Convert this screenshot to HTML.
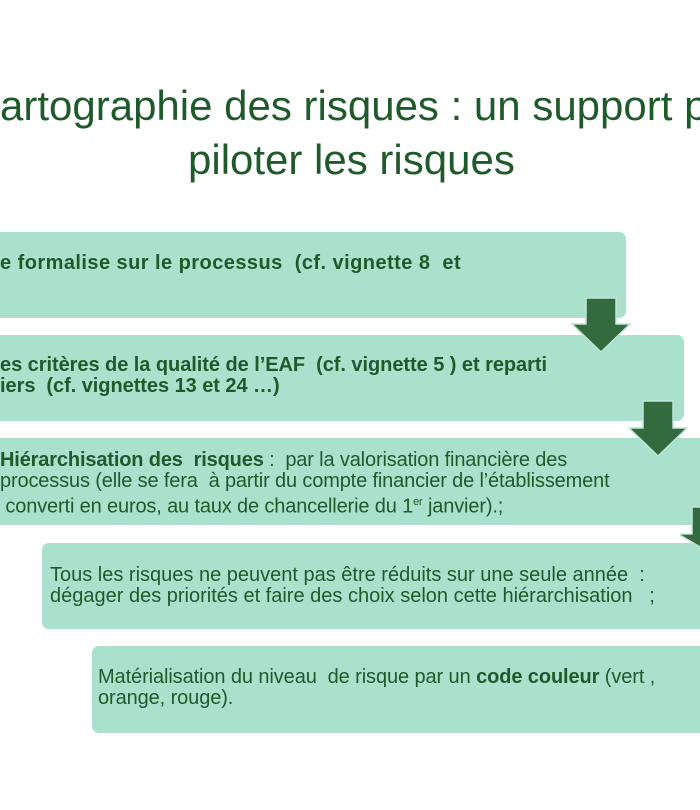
<!DOCTYPE html>
<html><head><meta charset="utf-8"><style>
body{margin:0;width:700px;height:810px;background:#fff;position:relative;overflow:hidden;font-family:"Liberation Sans",sans-serif;color:#1e5a2a}
.t{position:absolute;white-space:nowrap;font-size:42px;color:#1e5a2a}
.b{position:absolute;border-radius:7px;background:#a9e1cc}
.x{position:absolute;white-space:nowrap;font-size:20px;line-height:21px;color:#1e5a2a}
.a{position:absolute}
</style></head><body>
<div class="t" style="left:0;top:82px">artographie des risques : un support p</div>
<div class="t" style="left:188px;top:136px">piloter les risques</div>

<div class="b" style="left:-10px;top:232px;width:636px;height:86px"></div>
<div class="b" style="left:-10px;top:335px;width:694px;height:86px"></div>
<div class="b" style="left:-10px;top:438px;width:720px;height:87px"></div>
<div class="b" style="left:42px;top:543px;width:670px;height:86px"></div>
<div class="b" style="left:92px;top:646px;width:620px;height:87px"></div>

<svg class="a" style="left:570px;top:296px" width="62" height="58"><polygon points="16,2 46,2 46,28 60,28 31,56 2,28 16,28" fill="#336b3e" stroke="#bfe6d6" stroke-width="1.5"/></svg>
<svg class="a" style="left:627px;top:399px" width="62" height="60"><polygon points="16,2 46,2 46,29 60,29 31,57 2,29 16,29" fill="#336b3e" stroke="#bfe6d6" stroke-width="1.5"/></svg>
<svg class="a" style="left:680px;top:505px" width="40" height="50"><polygon points="16,2 46,2 46,29 60,29 31,46 2,29 16,29" fill="#336b3e" stroke="#bfe6d6" stroke-width="1.5" transform="translate(-4,0)"/></svg>

<div class="x" style="left:0;top:253px;font-weight:bold;letter-spacing:0.45px">e formalise sur le processus&nbsp; (cf. vignette 8&nbsp; et</div>
<div class="x" style="left:0;top:355px;font-weight:bold;letter-spacing:-0.05px">es critères de la qualité de l’EAF&nbsp; (cf. vignette 5 ) et reparti<br>iers&nbsp; (cf. vignettes 13 et 24 …)</div>
<div class="x" style="left:0;top:450px;letter-spacing:-0.15px"><b>Hiérarchisation des&nbsp; risques</b> :&nbsp; par la valorisation financière des<br>processus (elle se fera&nbsp; à partir du compte financier de l’établissement<br>&nbsp;converti en euros, au taux de chancellerie du 1<sup style="font-size:11px">er</sup> janvier).;</div>
<div class="x" style="left:50px;top:565px;letter-spacing:0px">Tous les risques ne peuvent pas être réduits sur une seule année&nbsp; :<br>dégager des priorités et faire des choix selon cette hiérarchisation&nbsp; &nbsp;;</div>
<div class="x" style="left:98px;top:667px;letter-spacing:-0.1px">Matérialisation du niveau&nbsp; de risque par un <b>code couleur</b> (vert ,<br>orange, rouge).</div>
</body></html>
